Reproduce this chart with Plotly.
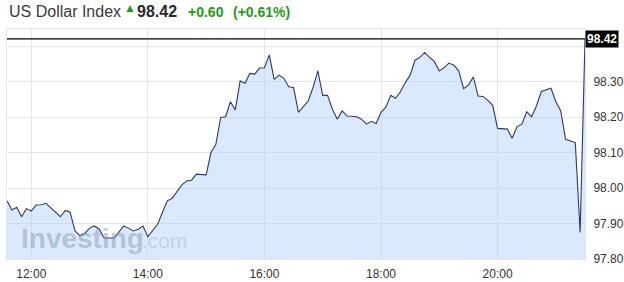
import plotly.graph_objects as go

DAY = "2019-01-01 "
times = ["11:35","11:40","11:45","11:50","11:55","12:00","12:05","12:10","12:15","12:30",
         "12:35","12:40","12:45","12:50","12:55","13:00","13:05","13:10","13:15","13:20",
         "13:25","13:30","13:35","13:40","13:45","13:50","13:55","14:00","14:05","14:10",
         "14:15","14:20","14:25","14:30","14:35","14:40","14:45","14:50","14:55","15:00",
         "15:05","15:10","15:15","15:20","15:25","15:30","15:35","15:40","15:45","15:50",
         "15:55","16:00","16:05","16:10","16:15","16:20","16:25","16:30","16:35","16:40",
         "16:45","16:50","16:55","17:00","17:05","17:10","17:15","17:20","17:25","17:30",
         "17:35","17:40","17:45","17:50","17:55","18:00","18:05","18:10","18:15","18:20",
         "18:25","18:30","18:35","18:40","18:45","18:50","18:55","19:00","19:05","19:10",
         "19:15","19:20","19:25","19:30","19:35","19:40","19:45","19:50","19:55","20:00",
         "20:05","20:10","20:15","20:20","20:25","20:30","20:35","20:40","20:45","20:50",
         "20:55","21:00","21:05","21:10","21:15","21:20","21:25","21:30"]
values = [97.964,97.938,97.946,97.919,97.942,97.935,97.952,97.953,97.957,97.919,
          97.937,97.932,97.879,97.866,97.872,97.887,97.893,97.884,97.859,97.859,
          97.859,97.875,97.893,97.887,97.879,97.884,97.893,97.863,97.879,97.898,
          97.931,97.964,97.971,97.991,98.009,98.020,98.022,98.039,98.039,98.037,
          98.100,98.123,98.199,98.201,98.243,98.220,98.302,98.295,98.323,98.321,
          98.338,98.339,98.375,98.306,98.318,98.309,98.285,98.283,98.213,98.230,
          98.245,98.283,98.330,98.261,98.261,98.222,98.194,98.217,98.203,98.202,
          98.201,98.194,98.180,98.188,98.182,98.213,98.228,98.261,98.253,98.271,
          98.297,98.318,98.360,98.368,98.382,98.368,98.356,98.330,98.339,98.352,
          98.346,98.330,98.280,98.290,98.313,98.259,98.258,98.247,98.233,98.168,
          98.166,98.166,98.140,98.173,98.180,98.215,98.201,98.231,98.272,98.277,
          98.281,98.243,98.218,98.137,98.133,98.128,97.875,98.420]

x_ticks = ["12:00","14:00","16:00","18:00","20:00"]
y_ticks = [97.80, 97.90, 98.00, 98.10, 98.20, 98.30, 98.40]
y_labels = ["97.80","97.90","98.00","98.10","98.20","98.30",""]
last_price = 98.42
title_name = "US Dollar Index"
price_text = "98.42"
change_text = "+0.60"
pct_text = "(+0.61%)"

W, H = 624, 282
ML, MR, MT, MB = 7, 39, 29, 23
PW, PH = W - ML - MR, H - MT - MB

def px(xp):
    return (xp - ML) / PW

def py(yp):
    return (H - MB - yp) / PH

xs = [DAY + t for t in times]
GREEN = "#1f9d17"
GRID = "#e3e6ed"

fig = go.Figure()
fig.add_trace(go.Scatter(
    x=xs, y=values, mode="lines",
    line=dict(color="#2d3a6c", width=1.1),
    fill="tozeroy", fillcolor="rgba(172,206,250,0.45)",
    hoverinfo="skip", showlegend=False,
))

fig.add_shape(type="line", xref="paper", x0=0, x1=1, yref="y", y0=last_price, y1=last_price,
              line=dict(color="#000000", width=1.3), layer="above")

annotations = [
    dict(text=title_name, x=px(7), y=py(11), xanchor="left", yanchor="middle",
         font=dict(family="Arial", size=16, color="#3a3a3a")),
    dict(text="\u25B2", x=px(122), y=py(8), xanchor="left", yanchor="middle",
         font=dict(family="Arial", size=12, color=GREEN)),
    dict(text="<b>" + price_text + "</b>", x=px(135), y=py(11), xanchor="left", yanchor="middle",
         font=dict(family="Arial", size=16, color="#2a2a2a")),
    dict(text="<b>" + change_text + "</b>", x=px(186), y=py(12), xanchor="left", yanchor="middle",
         font=dict(family="Arial", size=14, color=GREEN)),
    dict(text="<b>" + pct_text + "</b>", x=px(231), y=py(12), xanchor="left", yanchor="middle",
         font=dict(family="Arial", size=14, color=GREEN)),
    dict(text="<b>" + price_text + "</b>", x=1, xref="paper", y=last_price, yref="y",
         xanchor="left", yanchor="middle", bgcolor="#000000", borderpad=1,
         font=dict(family="Arial", size=12, color="#ffffff")),
    dict(text="<b>Investing</b>", x=px(19), y=py(238), xanchor="left", yanchor="middle",
         font=dict(family="Arial", size=28, color="rgba(130,145,170,0.45)")),
    dict(text=".com", x=px(140), y=py(240), xanchor="left", yanchor="middle",
         font=dict(family="Arial", size=21, color="rgba(150,165,190,0.35)")),
]
for a in annotations:
    a.setdefault("xref", "paper")
    a.setdefault("yref", "paper")
    a["showarrow"] = False
fig.update_layout(annotations=annotations)

fig.update_layout(
    width=W, height=H,
    margin=dict(l=ML, r=MR, t=MT, b=MB, pad=0, autoexpand=False),
    paper_bgcolor="#ffffff", plot_bgcolor="#ffffff",
    font=dict(family="Arial", size=12, color="#333333"),
    xaxis=dict(range=[DAY + "11:35", DAY + "21:30"],
               tickvals=[DAY + t for t in x_ticks], ticktext=x_ticks,
               showgrid=True, gridcolor=GRID, gridwidth=1,
               zeroline=False, showline=True, linecolor=GRID, mirror=True,
               ticks="", ticklabelstandoff=4, automargin=False,
               tickfont=dict(size=12, color="#333333"), fixedrange=True),
    yaxis=dict(range=[97.80, 98.448], side="right",
               tickvals=y_ticks, ticktext=y_labels,
               showgrid=True, gridcolor=GRID, gridwidth=1,
               zeroline=False, showline=True, linecolor=GRID, mirror=True,
               ticks="", ticklabelstandoff=5, automargin=False,
               tickfont=dict(size=12, color="#333333"), fixedrange=True),
)

fig.write_html("out.html")
